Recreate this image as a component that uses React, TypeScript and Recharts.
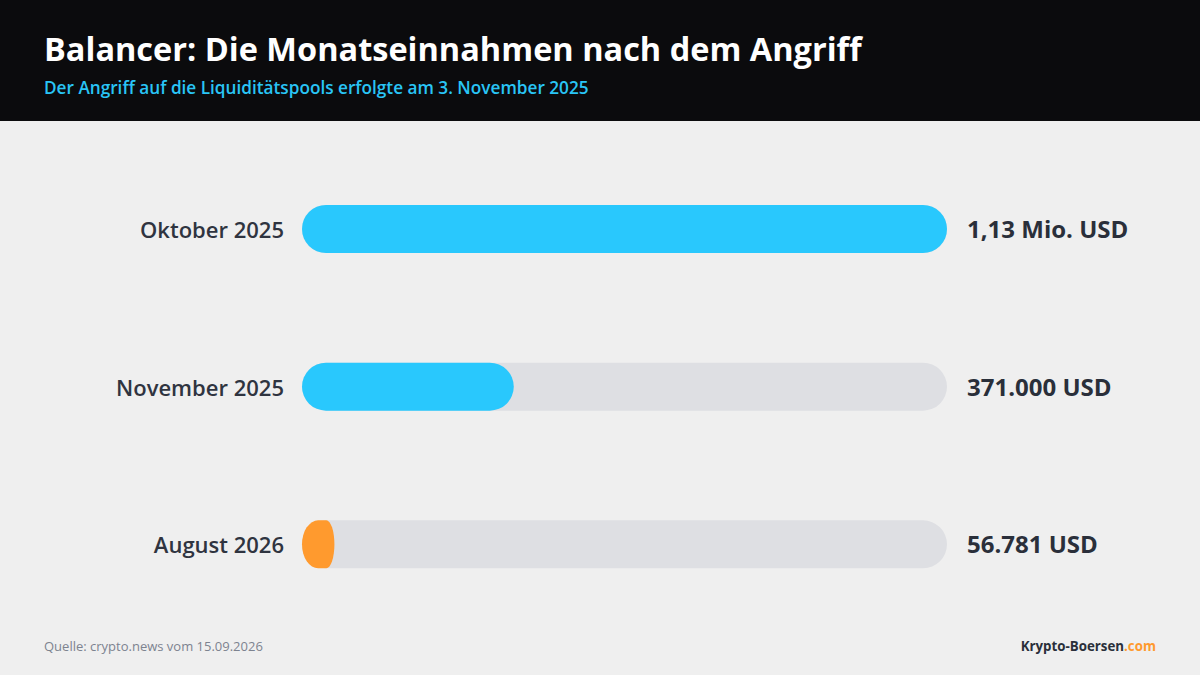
import React from "react";
import { BarChart, Bar, XAxis, YAxis, Cell, LabelList } from "recharts";

const categories = ["Oktober 2025", "November 2025", "August 2026"];
const revenues = [1130000, 371000, 56781];
const valueLabels = ["1,13 Mio. USD", "371.000 USD", "56.781 USD"];
const barColors = ["#29c8fd", "#29c8fd", "#ff9a2e"];
const maxValue = 1130000;

const data = categories.map((c, i) => ({ name: c, value: revenues[i], label: valueLabels[i] }));

const W = 1200;
const H = 675;
const PLOT_LEFT = 302;
const PLOT_RIGHT = 947;
const FONT = "'Open Sans', 'Noto Sans', sans-serif";

const PillShape = (props: any) => {
  const { x, y, width, height, fill } = props;
  if (!width || width <= 0) return null;
  const r = height / 2;
  let lr = r;
  let rr = r;
  if (width < 2 * r) {
    lr = width / 2;
    rr = width / 4;
  }
  const d = [
    `M ${x + lr} ${y}`,
    `L ${x + width - rr} ${y}`,
    `A ${rr} ${r} 0 0 1 ${x + width} ${y + r}`,
    `A ${rr} ${r} 0 0 1 ${x + width - rr} ${y + height}`,
    `L ${x + lr} ${y + height}`,
    `A ${lr} ${r} 0 0 1 ${x} ${y + r}`,
    `A ${lr} ${r} 0 0 1 ${x + lr} ${y}`,
    "Z",
  ].join(" ");
  return <path d={d} fill={fill} />;
};

const CategoryTick = (props: any) => {
  const { y, payload } = props;
  return (
    <text
      x={PLOT_LEFT - 18}
      y={y}
      dy={9}
      textAnchor="end"
      fontFamily={FONT}
      fontSize={22}
      fontWeight={600}
      fill="#2f3440"
    >
      {payload.value}
    </text>
  );
};

const ValueLabel = (props: any) => {
  const { y, height, value } = props;
  return (
    <text
      x={PLOT_RIGHT + 20}
      y={y + height / 2}
      dy={9}
      textAnchor="start"
      fontFamily={FONT}
      fontSize={24}
      fontWeight={700}
      fill="#2a2f3a"
    >
      {value}
    </text>
  );
};

export default function App() {
  return (
    <div
      style={{
        position: "absolute",
        left: 0,
        top: 0,
        width: W,
        height: H,
        background: "#efefef",
        overflow: "hidden",
        fontFamily: FONT,
      }}
    >
      <div
        style={{
          position: "absolute",
          left: 0,
          top: 0,
          width: W,
          height: 121,
          background: "#0b0b0d",
        }}
      >
        <div
          style={{
            position: "absolute",
            left: 44,
            top: 26,
            color: "#ffffff",
            fontSize: 32.5,
            fontWeight: 700,
            letterSpacing: 0,
            whiteSpace: "nowrap",
          }}
        >
          Balancer: Die Monatseinnahmen nach dem Angriff
        </div>
        <div
          style={{
            position: "absolute",
            left: 44,
            top: 76,
            color: "#29c5f6",
            fontSize: 17.2,
            fontWeight: 600,
            whiteSpace: "nowrap",
          }}
        >
          Der Angriff auf die Liquiditätspools erfolgte am 3. November 2025
        </div>
      </div>

      <div style={{ position: "absolute", left: 0, top: 0 }}>
        <BarChart
          width={W}
          height={H}
          data={data}
          layout="vertical"
          margin={{ top: 150, bottom: 52, left: 0, right: W - PLOT_RIGHT }}
          barSize={48}
        >
          <XAxis type="number" domain={[0, maxValue]} hide />
          <YAxis
            type="category"
            dataKey="name"
            width={PLOT_LEFT}
            axisLine={false}
            tickLine={false}
            tick={<CategoryTick />}
          />
          <Bar
            dataKey="value"
            isAnimationActive={false}
            shape={<PillShape />}
            background={{ fill: "#dedfe3", radius: 24 }}
          >
            {data.map((d, i) => (
              <Cell key={d.name} fill={barColors[i]} />
            ))}
            <LabelList dataKey="label" content={<ValueLabel />} />
          </Bar>
        </BarChart>
      </div>

      <div
        style={{
          position: "absolute",
          left: 44,
          top: 637,
          color: "#7d838f",
          fontSize: 13,
          whiteSpace: "nowrap",
        }}
      >
        Quelle: crypto.news vom 15.09.2026
      </div>
      <div
        style={{
          position: "absolute",
          right: 44,
          top: 637,
          color: "#2a2f3a",
          fontSize: 13.3,
          fontWeight: 700,
          whiteSpace: "nowrap",
        }}
      >
        Krypto-Boersen<span style={{ color: "#ff9a2e" }}>.com</span>
      </div>
    </div>
  );
}
